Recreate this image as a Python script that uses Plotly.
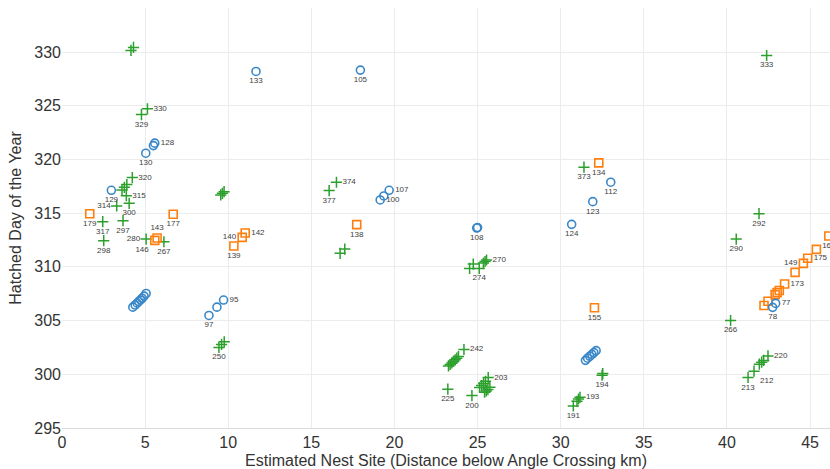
import plotly.graph_objects as go

# --- Blue circles -----------------------------------------------------------
circle_x = [4.26, 4.40, 4.52, 4.62, 4.72, 4.82, 4.94, 5.06,
            8.84, 9.32, 9.72,
            2.97, 5.04, 5.50, 5.58,
            11.67, 17.95,
            19.14, 19.36, 19.68,
            24.95, 25.00,
            30.66, 31.93, 33.01,
            31.49, 31.62, 31.75, 31.88, 32.00, 32.13,
            42.75, 42.93]
circle_y = [306.25, 306.45, 306.62, 306.78, 306.92, 307.08, 307.28, 307.52,
            305.48, 306.25, 306.91,
            317.13, 320.58, 321.29, 321.52,
            328.19, 328.32,
            316.23, 316.60, 317.13,
            313.62, 313.66,
            313.96, 316.07, 317.88,
            301.30, 301.50, 301.68, 301.85, 302.02, 302.20,
            306.23, 306.60]
circle_ids = ["", "", "", "", "", "", "", "",
              "97", "", "95",
              "129", "130", "", "128",
              "133", "105",
              "100", "", "107",
              "108", "",
              "124", "123", "112",
              "", "", "", "", "", "",
              "78", "77"]
circle_pos = ["bottom center"] * 8 + \
             ["bottom center", "bottom center", "middle right",
              "bottom center", "bottom center", "bottom center", "middle right",
              "bottom center", "bottom center",
              "middle right", "bottom center", "middle right",
              "bottom center", "bottom center",
              "bottom center", "bottom center", "bottom center"] + \
             ["bottom center"] * 6 + \
             ["bottom center", "middle right"]

# --- Orange squares ---------------------------------------------------------
square_x = [1.67, 6.69, 5.58, 5.72, 10.34, 10.84, 11.02, 17.73,
            32.29, 32.03,
            42.23, 42.47, 42.90, 43.02, 43.15, 43.47, 44.10, 44.60, 44.86,
            45.38, 46.13]
square_y = [314.95, 314.90, 312.47, 312.69, 311.94, 312.75, 313.15, 313.93,
            319.68, 306.19,
            306.40, 306.80, 307.42, 307.60, 307.80, 308.40, 309.49, 310.33,
            310.80, 311.63, 312.87]
square_ids = ["179", "177", "146", "143", "139", "140", "142", "138",
              "134", "155",
              "", "", "", "", "", "173", "", "149", "175", "", "161"]
square_pos = ["bottom center", "bottom center", "bottom left", "top center",
              "bottom center", "middle left", "middle right", "bottom center",
              "bottom center", "bottom center",
              "bottom center", "bottom center", "bottom center", "bottom center",
              "bottom center", "middle right", "bottom center", "middle left",
              "middle right", "bottom center", "bottom center"]

# --- Green crosses ----------------------------------------------------------
cross_x = [4.15, 4.30, 5.14, 4.78,
           4.23, 3.61, 3.75, 3.90, 3.87, 3.29, 4.04,
           2.45, 3.67, 2.51, 5.06, 6.13,
           9.55, 9.65, 9.75,
           9.44, 9.60, 9.76,
           16.51, 16.07, 16.73, 17.01,
           23.25, 23.35, 23.45, 23.55, 23.65, 23.75, 23.85, 24.18,
           23.21, 24.66,
           25.12, 25.24, 25.36, 25.48, 25.64,
           25.42, 25.52, 25.62, 25.74,
           24.52, 24.74, 25.10, 25.35, 25.45, 25.54,
           30.76, 30.98, 31.07, 31.16,
           31.40, 32.49, 32.53,
           40.22, 40.56, 41.93, 42.39,
           41.27, 41.63, 41.95, 42.09, 42.21, 42.47]
cross_y = [330.15, 330.43, 324.71, 324.18,
           318.31, 317.16, 317.41, 317.66, 316.63, 315.67, 315.92,
           314.21, 314.30, 312.44, 312.59, 312.34,
           316.70, 316.85, 317.00,
           302.50, 302.78, 303.02,
           317.88, 317.10, 311.26, 311.66,
           300.78, 300.92, 301.05, 301.20, 301.35, 301.50, 301.65, 302.31,
           298.61, 298.02,
           298.77, 298.95, 299.15, 299.35, 299.70,
           298.33, 298.45, 298.58, 298.80,
           309.86, 310.26, 309.86, 310.35, 310.50, 310.64,
           297.05, 297.49, 297.70, 297.86,
           319.28, 299.91, 300.07,
           305.01, 312.59, 314.95, 329.68,
           299.70, 300.29, 300.94, 301.13, 301.29, 301.71]
cross_ids = ["", "", "330", "329",
             "320", "", "", "", "315", "314", "300",
             "317", "297", "298", "280", "267",
             "", "", "",
             "250", "", "",
             "374", "377", "", "",
             "", "", "", "", "", "", "", "242",
             "225", "200",
             "", "", "", "", "203",
             "", "", "", "",
             "", "", "274", "", "", "270",
             "191", "", "", "193",
             "373", "194", "",
             "266", "290", "292", "333",
             "213", "212", "", "", "", "220"]
cross_pos = ["bottom center", "bottom center", "middle right", "bottom center",
             "middle right", "bottom center", "bottom center", "bottom center",
             "middle right", "middle left", "bottom center",
             "bottom center", "bottom center", "bottom center", "middle left", "bottom center",
             "bottom center", "bottom center", "bottom center",
             "bottom center", "bottom center", "bottom center",
             "middle right", "bottom center", "bottom center", "bottom center"] + \
            ["bottom center"] * 7 + ["middle right"] + \
            ["bottom center", "bottom center"] + \
            ["bottom center"] * 4 + ["middle right"] + \
            ["bottom center"] * 4 + \
            ["bottom center"] * 5 + ["middle right"] + \
            ["bottom center"] * 3 + ["middle right"] + \
            ["bottom center"] * 3 + \
            ["bottom center"] * 4 + \
            ["bottom center", "bottom right", "bottom center", "bottom center",
             "bottom center", "middle right"]

x_ticks = [0, 5, 10, 15, 20, 25, 30, 35, 40, 45]
y_ticks = [295, 300, 305, 310, 315, 320, 325, 330]

label_font = dict(family="Arial", size=8, color="#404040")


def make_trace(xs, ys, ids, pos, symbol, color, size, lw):
    return go.Scatter(
        x=xs, y=ys, text=ids, textposition=pos,
        mode="markers+text",
        marker=dict(symbol=symbol, size=size, color=color,
                    line=dict(width=lw, color=color)),
        textfont=label_font,
        cliponaxis=True,
        showlegend=False,
        hoverinfo="x+y+text",
    )


fig = go.Figure()
fig.add_trace(make_trace(cross_x, cross_y, cross_ids, cross_pos,
                         "cross-thin-open", "#2ca02c", 8, 1.5))
fig.add_trace(make_trace(square_x, square_y, square_ids, square_pos,
                         "square-open", "#ff7f0e", 8, 1.6))
fig.add_trace(make_trace(circle_x, circle_y, circle_ids, circle_pos,
                         "circle-open", "#3a87c8", 8, 1.6))

fig.update_layout(
    width=830, height=469,
    margin=dict(l=62, r=0, t=8, b=41),
    paper_bgcolor="white",
    plot_bgcolor="white",
    font=dict(family="Arial", color="#333333"),
)
fig.update_xaxes(
    range=[0, 46.2],
    tickvals=x_ticks,
    tickfont=dict(size=16, color="#333333"),
    title=dict(text="Estimated Nest Site (Distance below Angle Crossing km)",
               font=dict(size=16, color="#333333"), standoff=4),
    showgrid=True, gridcolor="#ececec", gridwidth=1,
    zeroline=False,
    showline=True, linecolor="#d9d9d9", linewidth=1,
    ticks="",
)
fig.update_yaxes(
    range=[295, 334.1],
    tickvals=y_ticks,
    tickfont=dict(size=16, color="#333333"),
    title=dict(text="Hatched Day of the Year",
               font=dict(size=16, color="#333333"), standoff=8),
    showgrid=True, gridcolor="#ececec", gridwidth=1,
    zeroline=False,
    showline=False,
    ticks="",
)

fig.write_html("out.html")
